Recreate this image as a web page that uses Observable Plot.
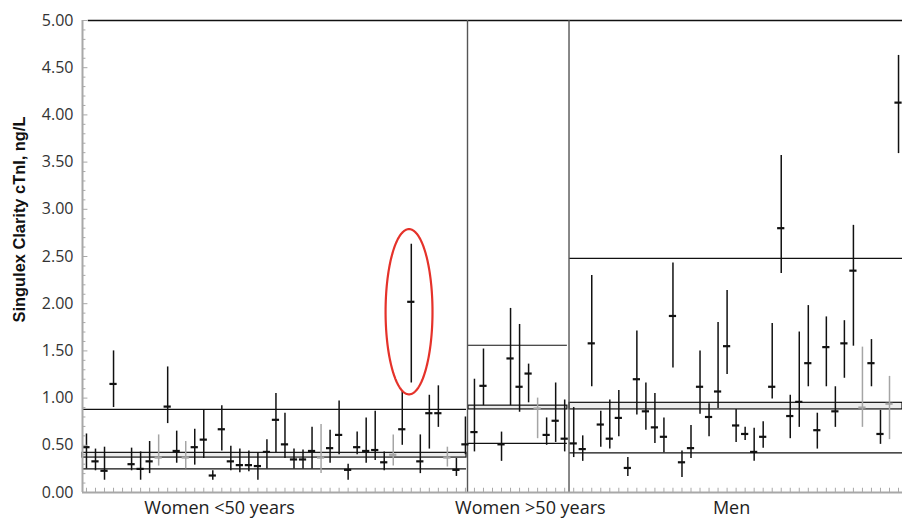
<!DOCTYPE html>
<html>
<head>
<meta charset="utf-8">
<script src="https://cdn.jsdelivr.net/npm/d3@7"></script>
<script src="https://cdn.jsdelivr.net/npm/@observablehq/plot@0.6"></script>
<style>
  html, body { margin: 0; padding: 0; background: #fff; }
  #chart svg { display: block; }
</style>
</head>
<body>
<div id="chart"></div>
<script>
// ---- data ----
// subject slot index along x (slots 4 and 45 are empty)
const subjectIndex = [
  0,1,2,3,5,6,7,8,9,10,11,12,13,14,15,16,17,18,19,20,21,22,23,24,25,26,27,28,29,30,31,32,33,34,35,36,37,38,39,40,41,42,
  43,44,46,47,48,49,50,51,52,53,
  54,55,56,57,58,59,60,61,62,63,64,65,66,67,68,69,70,71,72,73,74,75,76,77,78,79,80,81,82,83,84,85,86,87,88,89,90
];
const meanValue = [
  0.48,0.33,0.23,1.15,0.30,0.25,0.33,0.37,0.91,0.44,0.37,0.48,0.56,0.18,0.67,0.33,0.29,0.29,0.28,0.43,0.77,0.51,0.35,0.35,0.44,0.37,0.47,0.61,0.24,0.48,0.44,0.45,0.32,0.40,0.67,2.02,0.33,0.84,0.84,0.37,0.24,0.51,
  0.64,1.13,0.51,1.42,1.12,1.26,0.89,0.61,0.76,0.57,
  0.52,0.46,1.58,0.72,0.57,0.79,0.26,1.20,0.86,0.69,0.59,1.87,0.32,0.47,1.12,0.80,1.07,1.55,0.71,0.62,0.43,0.59,1.12,2.80,0.81,0.96,1.37,0.66,1.54,0.86,1.58,2.35,0.90,1.37,0.62,0.94,4.13
];
const ciLow = [
  0.25,0.23,0.13,0.90,0.23,0.13,0.20,0.28,0.73,0.31,0.25,0.29,0.36,0.13,0.44,0.23,0.21,0.22,0.13,0.25,0.42,0.36,0.25,0.25,0.25,0.20,0.31,0.40,0.13,0.40,0.31,0.34,0.23,0.28,0.50,1.16,0.20,0.46,0.69,0.27,0.17,0.40,
  0.43,0.92,0.33,0.92,0.85,0.95,0.57,0.50,0.53,0.43,
  0.37,0.33,1.12,0.48,0.46,0.59,0.17,0.82,0.66,0.52,0.42,1.32,0.16,0.36,0.83,0.59,0.89,1.25,0.53,0.55,0.33,0.47,0.99,2.32,0.57,0.69,1.12,0.46,1.12,0.69,1.21,1.55,0.69,1.12,0.51,0.56,3.59
];
const ciHigh = [
  0.62,0.46,0.48,1.50,0.47,0.43,0.54,0.61,1.33,0.65,0.54,0.67,0.88,0.23,0.92,0.49,0.46,0.44,0.42,0.56,1.05,0.84,0.46,0.45,0.69,0.72,0.66,0.97,0.30,0.64,0.79,0.86,0.43,0.61,1.08,2.63,0.61,1.03,1.13,0.48,0.36,0.80,
  1.20,1.52,0.64,1.95,1.78,1.36,1.00,0.79,1.16,0.98,
  0.90,0.60,2.30,0.86,0.98,1.08,0.37,1.71,1.16,1.05,0.79,2.43,0.44,0.71,1.50,0.94,1.80,2.14,0.88,0.69,0.68,0.75,1.79,3.57,1.03,1.70,1.98,0.84,1.86,1.12,1.82,2.83,1.54,1.62,0.87,1.23,4.63
];
const grayIndex = [8, 11, 26, 34, 40, 50, 86, 89];
const highlightIndex = 36;

// groups
const groupNames = ["Women <50 years", "Women >50 years", "Men"];
const groupStart = [-0.44, 42.34, 53.54];
const groupEnd   = [42.12, 53.30, 90.44];
const upperLimit = [0.88, 1.56, 2.48];
const bandLow    = [0.37, 0.88, 0.88];
const bandHigh   = [0.42, 0.92, 0.95];
const lowerLimit = [0.25, 0.52, 0.42];
const groupDividers = [42.23, 53.48];
const groupTickAt = [14.75, 49.2, 71.5];

const yMajorTicks = [0, 0.5, 1, 1.5, 2, 2.5, 3, 3.5, 4, 4.5, 5];
const yMinorTicks = d3.range(0, 51).map(k => k / 10).filter(v => Math.round(v * 10) % 5 !== 0);
const xDomain = [-0.44, 90.44];

// ---- build tables ----
const points = subjectIndex.map((i, k) => ({
  i, mean: meanValue[k], lo: ciLow[k], hi: ciHigh[k], gray: grayIndex.includes(i)
}));
const groups = groupNames.map((name, g) => ({
  name, x1: groupStart[g], x2: groupEnd[g], upper: upperLimit[g],
  bandLo: bandLow[g], bandHi: bandHigh[g], lower: lowerLimit[g]
}));
const hp = points.find(p => p.i === highlightIndex);
const ell = { cx: hp.i - 0.25, cy: (hp.lo + hp.hi) / 2 + 0.02, rx: 2.6, ry: (hp.hi - hp.lo) / 2 + 0.14 };
const ellipsePts = d3.range(0, 201).map(k => {
  const t = (k / 200) * 2 * Math.PI;
  return { x: ell.cx + ell.rx * Math.cos(t), y: ell.cy + ell.ry * Math.sin(t) };
});
const slotTicks = d3.range(0, 91);

const black = "#111";
const grayC = "#a5a5a5";
const axisC = "#a8a8a8";

const chart = Plot.plot({
  width: 902,
  height: 518,
  marginLeft: 82,
  marginRight: 0,
  marginTop: 20,
  marginBottom: 26,
  style: { fontFamily: "'Open Sans', sans-serif", background: "#fff" },
  x: { domain: xDomain, axis: null },
  y: { domain: [0, 5], axis: null },
  marks: [
    // band fills
    Plot.rect(groups, { x1: "x1", x2: "x2", y1: "bandLo", y2: "bandHi", fill: "#ececec", stroke: black, strokeWidth: 1.2 }),
    Plot.ruleY(groups, { y: "upper", x1: "x1", x2: "x2", stroke: black, strokeWidth: 1.2 }),
    Plot.ruleY(groups, { y: "lower", x1: "x1", x2: "x2", stroke: black, strokeWidth: 1.2 }),
    // frame parts
    Plot.ruleY([5], { x1: 0.2, x2: xDomain[1], stroke: black, strokeWidth: 1.5 }),
    Plot.ruleX(groupDividers, { y1: 0, y2: 5, stroke: "#555", strokeWidth: 1.4 }),
    // error bars and means
    Plot.ruleX(points, { x: "i", y1: "lo", y2: "hi", stroke: d => d.gray ? grayC : black, strokeWidth: 1.5 }),
    Plot.ruleY(points, { y: "mean", x1: d => d.i - 0.4, x2: d => d.i + 0.4, stroke: d => d.gray ? grayC : black, strokeWidth: 2.2 }),
    // axes lines and ticks
    Plot.ruleY([0], { x1: xDomain[0], x2: xDomain[1], stroke: axisC, strokeWidth: 2 }),
    Plot.ruleX([xDomain[0]], { y1: 0, y2: 5, stroke: axisC, strokeWidth: 2 }),
    Plot.ruleX(slotTicks, { x: d => d, y1: 0, y2: 0.045, stroke: axisC, strokeWidth: 1 }),
    Plot.ruleY(yMajorTicks, { y: d => d, x1: xDomain[0], x2: xDomain[0] + 0.6, stroke: axisC, strokeWidth: 1 }),
    Plot.ruleY(yMinorTicks, { y: d => d, x1: xDomain[0], x2: xDomain[0] + 0.38, stroke: axisC, strokeWidth: 1 }),
    Plot.axisY({ ticks: yMajorTicks, tickSize: 0, tickPadding: 9, tickFormat: d => d.toFixed(2), fontSize: 16, fill: "#333", label: null }),
    Plot.axisX({ ticks: groupTickAt, tickSize: 0, tickPadding: 9, tickFormat: d => groupNames[groupTickAt.indexOf(d)], fontSize: 18, fill: "#222", label: null }),
    // y axis title
    Plot.text(["Singulex Clarity cTnI, ng/L"], { frameAnchor: "left", textAnchor: "middle", rotate: -90, dx: -63, dy: -37, fontSize: 16.4, fontWeight: "bold", fontFamily: "'Liberation Sans', Arial, sans-serif", fill: "#111" }),
    // highlight ellipse
    Plot.line(ellipsePts, { x: "x", y: "y", stroke: "#e5322a", strokeWidth: 2.2 })
  ]
});
document.getElementById("chart").appendChild(chart);
</script>
</body>
</html>
